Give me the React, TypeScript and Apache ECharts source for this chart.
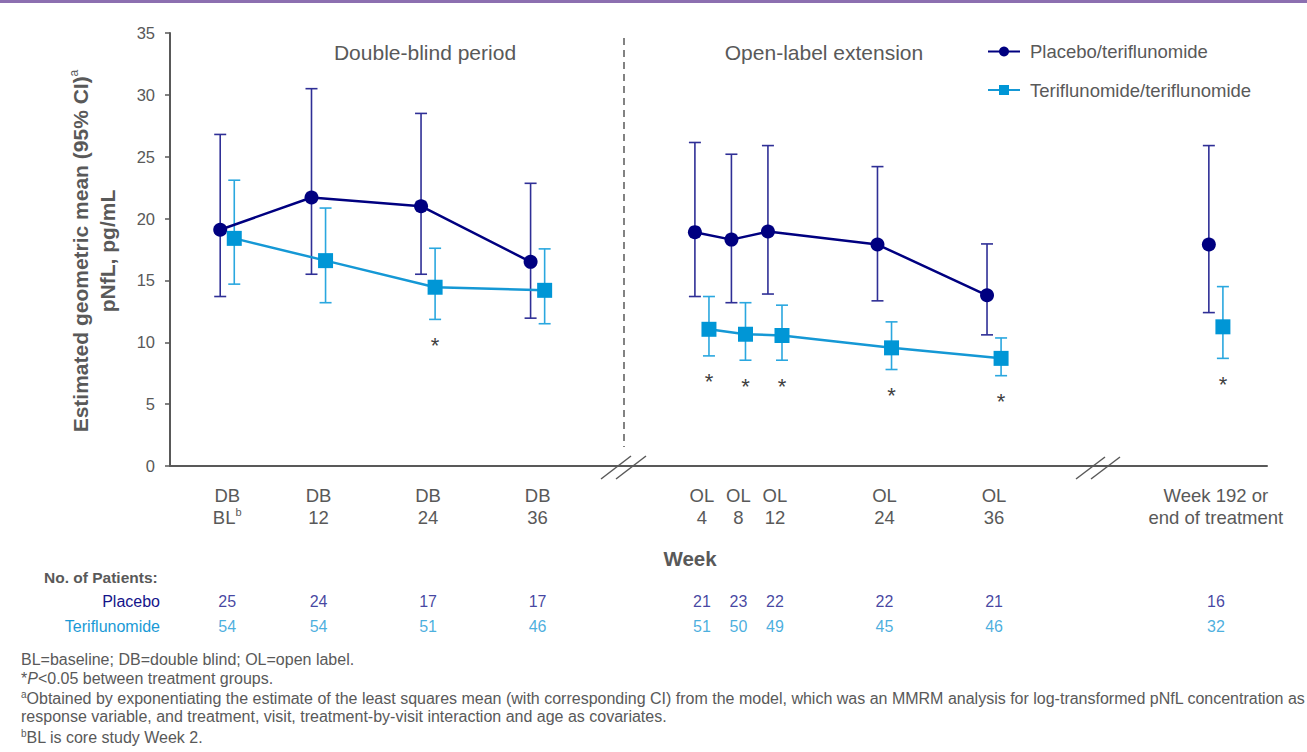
import React, { useEffect, useRef } from "react";
import * as echarts from "echarts";

// ---------- data ----------
const categoryLabels = [
  "DB\nBL", "DB\n12", "DB\n24", "DB\n36",
  "OL\n4", "OL\n8", "OL\n12", "OL\n24", "OL\n36",
  "Week 192 or\nend of treatment",
];
const periods = ["DB", "DB", "DB", "DB", "OL", "OL", "OL", "OL", "OL", "EOT"];
const studyWeeks = [2, 12, 24, 36, 4, 8, 12, 24, 36, 192];

const placeboMean = [19.1, 21.7, 21.0, 16.5, 18.9, 18.3, 18.95, 17.9, 13.8, 17.9];
const placeboLow = [13.7, 15.5, 15.5, 11.95, 13.7, 13.2, 13.9, 13.35, 10.6, 12.4];
const placeboHigh = [26.8, 30.5, 28.5, 22.85, 26.15, 25.2, 25.9, 24.2, 17.95, 25.9];

const teriMean = [18.4, 16.6, 14.45, 14.2, 11.05, 10.65, 10.55, 9.55, 8.7, 11.25];
const teriLow = [14.7, 13.2, 11.85, 11.5, 8.9, 8.55, 8.55, 7.8, 7.3, 8.7];
const teriHigh = [23.1, 20.85, 17.6, 17.55, 13.7, 13.2, 13.0, 11.65, 10.35, 14.5];
const significant = [0, 0, 1, 0, 1, 1, 1, 1, 1, 1];

const placeboN = [25, 24, 17, 17, 21, 23, 22, 22, 21, 16];
const teriN = [54, 54, 51, 46, 51, 50, 49, 45, 46, 32];

const yTicks = [0, 5, 10, 15, 20, 25, 30, 35];

const seriesNames = ["Placebo/teriflunomide", "Teriflunomide/teriflunomide"];
const rowNames = ["Placebo", "Teriflunomide"];

// ---------- layout helpers ----------
const OL_SHIFT = 50;
const EOT_POS = 110.3;
const GROUP_OFFSET = 0.77;
const X_MIN = -4.27;
const X_MAX = 115.9;

function axisPos(i: number) {
  if (periods[i] === "DB") return studyWeeks[i];
  if (periods[i] === "OL") return OL_SHIFT + studyWeeks[i];
  return EOT_POS;
}
const positions = categoryLabels.map((_, i) => axisPos(i));

const FONT = "'Liberation Sans', Arial, sans-serif";
const GREY = "#595959";
const NAVY = "#000080";
const NAVY_BAR = "#2f2f96";
const BLUE = "#0096d6";
const BLUE_LINE = "#1598d5";
const BLUE_BAR = "#2aa7df";
const BLUE_TEXT = "#1a9ad6";
const NAVY_TEXT = "#14148a";

function fmtLabel(v: number) {
  const idx = positions.findIndex((p) => Math.abs(p - v) < 0.01);
  if (idx < 0) return "";
  const lines = categoryLabels[idx].split("\n");
  return lines
    .map((l) => (l === "BL" ? "{a|BL}{s|b}" : `{a|${l}}`))
    .join("\n");
}

function errorBarSeries(name: string, low: number[], high: number[], offset: number, color: string, stars: boolean) {
  return {
    type: "custom",
    name,
    xAxisIndex: 0,
    yAxisIndex: 0,
    silent: true,
    z: 2,
    encode: { x: 0, y: [1, 2] },
    data: low.map((lo, i) => [positions[i] + offset, lo, high[i], stars ? significant[i] : 0]),
    renderItem: (params: any, api: any) => {
      const lo = api.coord([api.value(0), api.value(1)]);
      const hi = api.coord([api.value(0), api.value(2)]);
      const w = 6;
      const style = { stroke: color, lineWidth: 1.6 };
      const children: any[] = [
        { type: "line", shape: { x1: lo[0], y1: lo[1], x2: hi[0], y2: hi[1] }, style },
        { type: "line", shape: { x1: lo[0] - w, y1: lo[1], x2: lo[0] + w, y2: lo[1] }, style },
        { type: "line", shape: { x1: hi[0] - w, y1: hi[1], x2: hi[0] + w, y2: hi[1] }, style },
      ];
      if (api.value(3) === 1) {
        children.push({
          type: "text",
          x: lo[0],
          y: lo[1] + 26,
          style: {
            text: "*",
            fontSize: 22,
            fontFamily: FONT,
            fill: "#404040",
            align: "center",
            verticalAlign: "middle",
          },
        });
      }
      return { type: "group", children };
    },
  };
}

function lineSeries(name: string, mean: number[], offset: number, symbol: string, size: number, color: string, lineColor: string) {
  return ["DB", "OL", "EOT"].map((seg) => ({
    type: "line",
    name,
    xAxisIndex: 0,
    yAxisIndex: 0,
    z: 5,
    symbol,
    symbolSize: size,
    showSymbol: true,
    itemStyle: { color, borderWidth: 0 },
    lineStyle: { color: lineColor, width: 2.5 },
    data: periods
      .map((p, i) => (p === seg ? [positions[i] + offset, mean[i]] : null))
      .filter((d) => d !== null),
  }));
}

function footText(y: number, text: string) {
  return {
    type: "text",
    left: 21,
    top: y - 9,
    style: {
      text,
      fontFamily: FONT,
      fontSize: 16,
      fill: GREY,
      rich: {
        n: { fontSize: 16, fontFamily: FONT, fill: GREY, lineHeight: 18 },
        i: { fontSize: 16, fontFamily: FONT, fill: GREY, fontStyle: "italic", lineHeight: 18 },
        s: { fontSize: 10, fontFamily: FONT, fill: GREY, lineHeight: 18, verticalAlign: "top", padding: [0, 0, 6, 0] },
      },
    },
  };
}

export default function App() {
  const ref = useRef<HTMLDivElement>(null);

  useEffect(() => {
    if (!ref.current) return;
    const chart = echarts.init(ref.current, undefined, { renderer: "svg" });

    const option: any = {
      animation: false,
      textStyle: { fontFamily: FONT },
      grid: [
        { left: 170, right: 40, top: 33, bottom: 286 },
        { left: 170, right: 40, top: 589, height: 50 },
      ],
      xAxis: [
        {
          type: "value",
          gridIndex: 0,
          min: X_MIN,
          max: X_MAX,
          axisLine: { show: true, onZero: false, lineStyle: { color: GREY, width: 2 } },
          axisTick: { show: false },
          splitLine: { show: false },
          axisLabel: {
            show: true,
            customValues: positions,
            margin: 18,
            formatter: (v: number) => fmtLabel(v),
            rich: {
              a: { fontSize: 18.5, fontFamily: FONT, color: GREY, lineHeight: 22 },
              s: { fontSize: 11, fontFamily: FONT, color: GREY, lineHeight: 22, verticalAlign: "top", padding: [0, 0, 8, 0] },
            },
          },
        },
        { type: "value", gridIndex: 1, min: X_MIN, max: X_MAX, show: false },
      ],
      yAxis: [
        {
          type: "value",
          gridIndex: 0,
          min: 0,
          max: 35,
          interval: 5,
          axisLine: { show: true, onZero: false, lineStyle: { color: GREY, width: 2 } },
          axisTick: { show: true, length: 5, lineStyle: { color: GREY, width: 1.5 } },
          splitLine: { show: false },
          axisLabel: {
            margin: 15,
            fontSize: 16.5,
            fontFamily: FONT,
            color: GREY,
            customValues: yTicks,
          },
        },
        {
          type: "category",
          gridIndex: 1,
          data: rowNames,
          inverse: true,
          axisLine: { show: false },
          axisTick: { show: false },
          axisLabel: {
            margin: 10,
            fontSize: 16,
            fontFamily: FONT,
            color: (v: string) => (v === "Placebo" ? NAVY_TEXT : BLUE_TEXT),
          },
        },
      ],
      legend: {
        data: seriesNames,
        orient: "vertical",
        left: 982,
        top: 37,
        itemWidth: 32,
        itemHeight: 12.5,
        itemGap: 19.5,
        selectedMode: false,
        textStyle: { fontSize: 18.5, color: GREY, fontFamily: FONT, padding: [0, 0, 0, 5] },
      },
      series: [
        errorBarSeries("placeboCI", placeboLow, placeboHigh, -GROUP_OFFSET, NAVY_BAR, false),
        errorBarSeries("teriCI", teriLow, teriHigh, GROUP_OFFSET, BLUE_BAR, true),
        ...lineSeries(seriesNames[0], placeboMean, -GROUP_OFFSET, "circle", 14, NAVY, NAVY),
        ...lineSeries(seriesNames[1], teriMean, GROUP_OFFSET, "rect", 15, BLUE, BLUE_LINE),
        {
          type: "scatter",
          name: "nPlacebo",
          xAxisIndex: 1,
          yAxisIndex: 1,
          symbol: "rect",
          symbolSize: 1,
          silent: true,
          itemStyle: { color: "rgba(0,0,0,0)" },
          label: {
            show: true,
            position: "inside",
            fontSize: 16,
            fontFamily: FONT,
            color: NAVY_TEXT,
            formatter: (p: any) => String(p.value[2]),
          },
          data: placeboN.map((n, i) => [positions[i], 0, n]),
        },
        {
          type: "scatter",
          name: "nTeri",
          xAxisIndex: 1,
          yAxisIndex: 1,
          symbol: "rect",
          symbolSize: 1,
          silent: true,
          itemStyle: { color: "rgba(0,0,0,0)" },
          label: {
            show: true,
            position: "inside",
            fontSize: 16,
            fontFamily: FONT,
            color: BLUE_TEXT,
            formatter: (p: any) => String(p.value[2]),
          },
          data: teriN.map((n, i) => [positions[i], 1, n]),
        },
      ],
      graphic: [
        { type: "rect", left: 0, top: 0, shape: { width: 1307, height: 3 }, style: { fill: "#8c6fb0" } },
        {
          type: "line",
          shape: { x1: 624, y1: 38, x2: 624, y2: 447 },
          style: { stroke: GREY, lineWidth: 1.5, lineDash: [7, 5] },
        },
        { type: "line", shape: { x1: 601, y1: 479, x2: 631, y2: 456 }, style: { stroke: GREY, lineWidth: 1.5 } },
        { type: "line", shape: { x1: 616, y1: 479, x2: 646, y2: 456 }, style: { stroke: GREY, lineWidth: 1.5 } },
        { type: "line", shape: { x1: 1076, y1: 479, x2: 1105, y2: 457 }, style: { stroke: GREY, lineWidth: 1.5 } },
        { type: "line", shape: { x1: 1091, y1: 479, x2: 1120, y2: 457 }, style: { stroke: GREY, lineWidth: 1.5 } },
        {
          type: "text",
          x: 425,
          y: 52,
          style: { text: "Double-blind period", fontSize: 21, fontFamily: FONT, fill: GREY, align: "center", verticalAlign: "middle" },
        },
        {
          type: "text",
          x: 824,
          y: 52,
          style: { text: "Open-label extension", fontSize: 21, fontFamily: FONT, fill: GREY, align: "center", verticalAlign: "middle" },
        },
        {
          type: "text",
          x: 80,
          y: 251,
          rotation: Math.PI / 2,
          style: {
            text: "{t|Estimated geometric mean (95% CI)}{s|a}",
            align: "center",
            verticalAlign: "middle",
            rich: {
              t: { fontSize: 21, fontWeight: "bold", fontFamily: FONT, fill: GREY, lineHeight: 24 },
              s: { fontSize: 12, fontFamily: FONT, fill: GREY, lineHeight: 24, verticalAlign: "top", padding: [0, 0, 8, 0] },
            },
          },
        },
        {
          type: "text",
          x: 107,
          y: 251,
          rotation: Math.PI / 2,
          style: { text: "pNfL, pg/mL", fontSize: 21, fontWeight: "bold", fontFamily: FONT, fill: GREY, align: "center", verticalAlign: "middle" },
        },
        {
          type: "text",
          x: 690,
          y: 558,
          style: { text: "Week", fontSize: 20.5, fontWeight: "bold", fontFamily: FONT, fill: GREY, align: "center", verticalAlign: "middle" },
        },
        {
          type: "text",
          x: 44,
          y: 577,
          style: { text: "No. of Patients:", fontSize: 15.5, fontWeight: "bold", fontFamily: FONT, fill: GREY, align: "left", verticalAlign: "middle" },
        },
        footText(660, "{n|BL=baseline; DB=double blind; OL=open label.}"),
        footText(679, "{n|*}{i|P}{n|<0.05 between treatment groups.}"),
        footText(698, "{s|a}{n|Obtained by exponentiating the estimate of the least squares mean (with corresponding CI) from the model, which was an MMRM analysis for log-transformed pNfL concentration as}"),
        footText(717, "{n|response variable, and treatment, visit, treatment-by-visit interaction and age as covariates.}"),
        footText(737, "{s|b}{n|BL is core study Week 2.}"),
      ],
    };

    chart.setOption(option);
    return () => chart.dispose();
  }, []);

  return (
    <div
      ref={ref}
      style={{ position: "fixed", left: 0, top: 0, width: 1307, height: 752, background: "#ffffff" }}
    />
  );
}
